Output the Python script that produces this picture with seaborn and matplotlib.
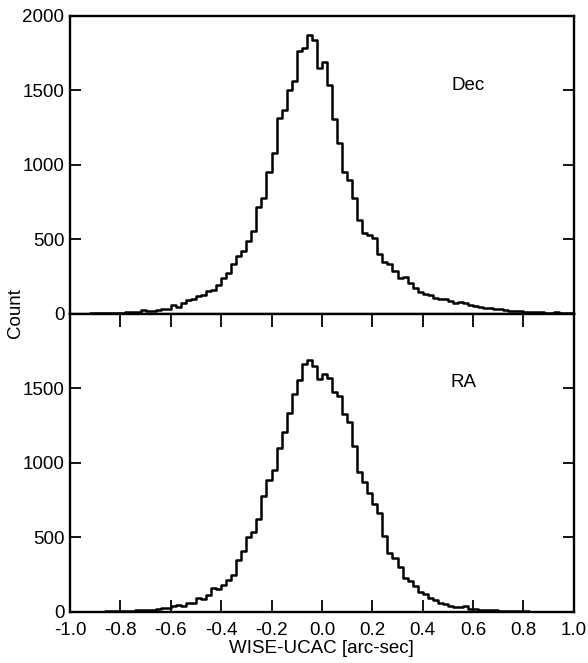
import numpy as np
import pandas as pd
import matplotlib
matplotlib.use("Agg")
import matplotlib.pyplot as plt
import seaborn as sns

# counts per 0.02 arc-sec bin, from -1.0 to 1.0 (100 bins)
dec_counts = [
    1, 1, 2, 2, 3, 3, 4, 5, 6, 8,
    9, 12, 13, 14, 27, 20, 22, 24, 31, 35,
    60, 48, 72, 92, 99, 121, 128, 155, 159, 193,
    238, 278, 334, 390, 424, 487, 559, 716, 779, 952,
    1080, 1318, 1367, 1506, 1562, 1765, 1785, 1872, 1838, 1648,
    1690, 1535, 1311, 1150, 952, 896, 777, 633, 540, 530,
    509, 402, 346, 335, 290, 242, 250, 205, 173, 150,
    137, 128, 110, 99, 97, 88, 72, 78, 70, 61,
    54, 47, 43, 40, 33, 30, 25, 22, 20, 18,
    15, 13, 11, 10, 8, 7, 11, 8, 5, 4,
]
ra_counts = [
    1, 1, 1, 2, 2, 3, 3, 4, 5, 6,
    7, 8, 9, 10, 12, 13, 15, 20, 25, 25,
    38, 49, 42, 60, 60, 94, 87, 116, 160, 154,
    183, 216, 250, 350, 406, 506, 539, 627, 777, 886,
    951, 1100, 1210, 1332, 1465, 1555, 1663, 1690, 1652, 1565,
    1600, 1570, 1475, 1452, 1330, 1275, 1115, 940, 870, 798,
    722, 663, 510, 394, 360, 305, 227, 205, 172, 132,
    123, 94, 82, 60, 56, 38, 31, 33, 38, 20,
    20, 12, 11, 10, 10, 9, 7, 7, 6, 5,
    4, 3, 3, 2, 2, 2, 1, 1, 1, 1,
]
panel_labels = ["Dec", "RA"]
x_ticks = [-1.0, -0.8, -0.6, -0.4, -0.2, 0.0, 0.2, 0.4, 0.6, 0.8, 1.0]

edges = np.round(np.linspace(-1.0, 1.0, len(dec_counts) + 1), 4)
centers = (edges[:-1] + edges[1:]) / 2
df = pd.DataFrame({"offset": centers, "Dec": dec_counts, "RA": ra_counts})

sns.set_style("ticks")
plt.rcParams["font.family"] = ["Liberation Sans", "DejaVu Sans"]
plt.rcParams["axes.unicode_minus"] = False
plt.rcParams["font.size"] = 13.5
plt.rcParams["text.color"] = "black"
plt.rcParams["axes.labelcolor"] = "black"
plt.rcParams["xtick.color"] = "black"
plt.rcParams["ytick.color"] = "black"

fig, (ax_top, ax_bot) = plt.subplots(2, 1, figsize=(5.88, 6.63), dpi=100, sharex=True)
fig.subplots_adjust(left=0.119, right=0.976, top=0.976, bottom=0.077, hspace=0)

for ax, label, pos in [(ax_top, panel_labels[0], (0.58, 1530)),
                       (ax_bot, panel_labels[1], (0.56, 1540))]:
    sns.histplot(data=df, x="offset", weights=label, bins=edges.tolist(), element="step",
                 fill=False, color="black", linewidth=1.8, ax=ax)
    ax.set_xlim(-1.0, 1.0)
    ax.set_ylim(0, 2000)
    ax.set_ylabel("")
    ax.text(pos[0], pos[1], label, ha="center", va="center", fontsize=13.5, color="black")
    for sp in ax.spines.values():
        sp.set_visible(True)
        sp.set_linewidth(1.7)
        sp.set_color("black")
    ax.tick_params(axis="y", direction="in", length=8, width=1.3, left=True, right=True,
                   labelsize=13.5, pad=4, colors="black")

ax_top.set_yticks([0, 500, 1000, 1500, 2000])
ax_bot.set_yticks([0, 500, 1000, 1500])
ax_top.tick_params(axis="x", bottom=False, top=False, labelbottom=False)
ax_bot.set_xticks(x_ticks)
ax_bot.set_xticklabels([f"{v:.1f}" for v in x_ticks])
ax_bot.tick_params(axis="x", direction="in", length=9, width=1.3, top=True, bottom=True,
                   labelsize=13.5, pad=7, colors="black")
ax_bot.set_xlabel("WISE-UCAC [arc-sec]", fontsize=13.5, labelpad=1, color="black")
fig.text(0.026, 0.528, "Count", rotation=90, ha="center", va="center", fontsize=13.5,
         color="black")

fig.savefig("out.png", dpi=100)
